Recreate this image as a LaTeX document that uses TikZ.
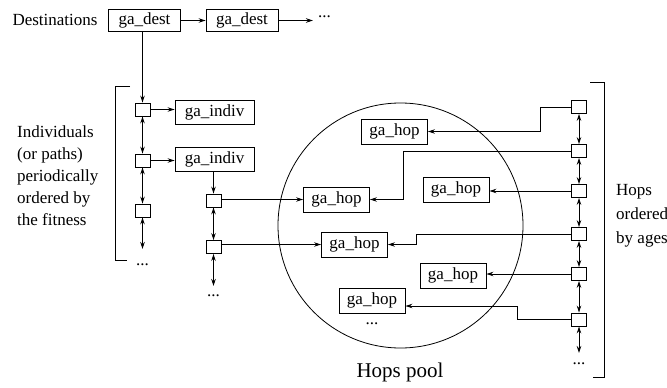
\documentclass[tikz,border=0pt]{standalone}
\usepackage{fontspec}
\setmainfont{Liberation Serif}
\usetikzlibrary{arrows.meta,positioning,calc}
\begin{document}
\begin{tikzpicture}[x=1pt,y=-1pt,
  every node/.style={font=\fontsize{17}{22}\selectfont},
  lbl/.style={inner sep=0pt},
  gbox/.style={draw,line width=0.9pt,inner sep=0pt,minimum height=24pt},
  destbox/.style={gbox,minimum width=72pt,minimum height=22pt},
  indbox/.style={gbox,minimum width=79pt},
  hopbox/.style={gbox,minimum width=66pt,minimum height=25pt},
  sq/.style={draw,line width=0.9pt,inner sep=0pt,minimum width=15pt,minimum height=13pt},
  arr/.style={line width=0.8pt,-{Stealth[length=7pt,width=4.5pt]}},
  darr/.style={line width=0.8pt,{Stealth[length=7pt,width=4.5pt]}-{Stealth[length=7pt,width=4.5pt]}},
  ln/.style={line width=0.8pt}]
\useasboundingbox (0,0) rectangle (667,388);

% destinations
\node[lbl] (destlbl) at (55,20) {Destinations};
\node[destbox] (d1) at (144.5,20.5) {ga\_dest};
\node[destbox] (d2) at (242,20.5) {ga\_dest};
\coordinate (dend) at (313,20.5);
\node[lbl,anchor=west] (ddots) at (318,17) {...};
\draw[arr] (d1.east) -- (d2.west);
\draw[arr] (d2.east) -- (dend);

% left column
\node[sq] (s1) at (142.5,109.5) {};
\node[sq] (s2) at (142.5,160.5) {};
\node[sq] (s3) at (142.5,210.5) {};
\coordinate (e1) at (142.5,249);
\node[lbl] (dots1) at (142.5,265) {...};
\draw[arr] (d1.south -| s1) -- (s1.north);
\draw[darr] (s1.south) -- (s2.north);
\draw[darr] (s2.south) -- (s3.north);
\draw[darr] (s3.south) -- (e1);

\node[indbox] (i1) at (214.5,112) {ga\_indiv};
\node[indbox] (i2) at (214.5,159) {ga\_indiv};
\draw[arr] (s1.east) -- (s1.east -| i1.west);
\draw[arr] (s2.east) -- (s2.east -| i2.west);

% second column
\node[sq] (s4) at (213.5,200.5) {};
\node[sq] (s5) at (213.5,247) {};
\coordinate (e2) at (213.5,286);
\node[lbl] (dots2) at (213.5,296) {...};
\draw[arr] (s4 |- i2.south) -- (s4.north);
\draw[darr] (s4.south) -- (s5.north);
\draw[darr] (s5.south) -- (e2);

% left bracket and text
\draw[ln] (130,86) -- (115,86) -- (115,260) -- (127,260);
\node[lbl,anchor=west,align=left] (ltext) at (17,176) {Individuals\\(or paths)\\periodically\\ordered by\\the fitness};

% hops pool
\node[draw,circle,line width=0.8pt,minimum size=245pt,inner sep=0pt] (pool) at (400.5,225.5) {};
\node[lbl,font=\fontsize{21}{24}\selectfont] (pooltxt) at (400,372) {Hops pool};
\node[hopbox] (h1) at (394.5,131.5) {ga\_hop};
\node[hopbox] (h2) at (336.5,199.5) {ga\_hop};
\node[hopbox] (h3) at (456,189.5) {ga\_hop};
\node[hopbox] (h4) at (354.5,244.5) {ga\_hop};
\node[hopbox] (h5) at (453,275.5) {ga\_hop};
\node[hopbox] (h6) at (372,300.5) {ga\_hop};
\node[lbl] (dots3) at (372,324) {...};

\draw[arr] (s4.east |- h2.west) -- (h2.west);
\draw[arr] (s5.east |- h4.west) -- (h4.west);

% right column
\node[sq] (r1) at (579,107) {};
\node[sq] (r2) at (579,151) {};
\node[sq] (r3) at (579,191) {};
\node[sq] (r4) at (579,234) {};
\node[sq] (r5) at (579,274) {};
\node[sq] (r6) at (579,319.5) {};
\coordinate (e3) at (579,353);
\node[lbl] (dots4) at (579,364) {...};
\draw[darr] (r1.south) -- (r2.north);
\draw[darr] (r2.south) -- (r3.north);
\draw[darr] (r3.south) -- (r4.north);
\draw[darr] (r4.south) -- (r5.north);
\draw[darr] (r5.south) -- (r6.north);
\draw[darr] (r6.south) -- (e3);

\draw[arr] (r1.west) -| ([xshift=112pt]h1.east) -- (h1.east);
\draw[arr] (r2.west) -| ([xshift=33pt]h2.east) -- (h2.east);
\draw[arr] (r3.west) -- (r3.west -| h3.east);
\draw[arr] (r4.west) -| ([xshift=28pt]h4.east) -- (h4.east);
\draw[arr] (r5.west) -- (r5.west -| h5.east);
\draw[arr] (r6.west) -| ([xshift=112pt,yshift=-5.5pt]h6.east) -- ([yshift=-5.5pt]h6.east);

% right bracket and text
\draw[ln] (590,82) -- (604,82) -- (604,377) -- (593,377);
\node[lbl,anchor=west,align=left,font=\fontsize{17}{24}\selectfont] (rtext) at (616,216) {Hops\\ordered\\by ages};
\end{tikzpicture}
\end{document}
